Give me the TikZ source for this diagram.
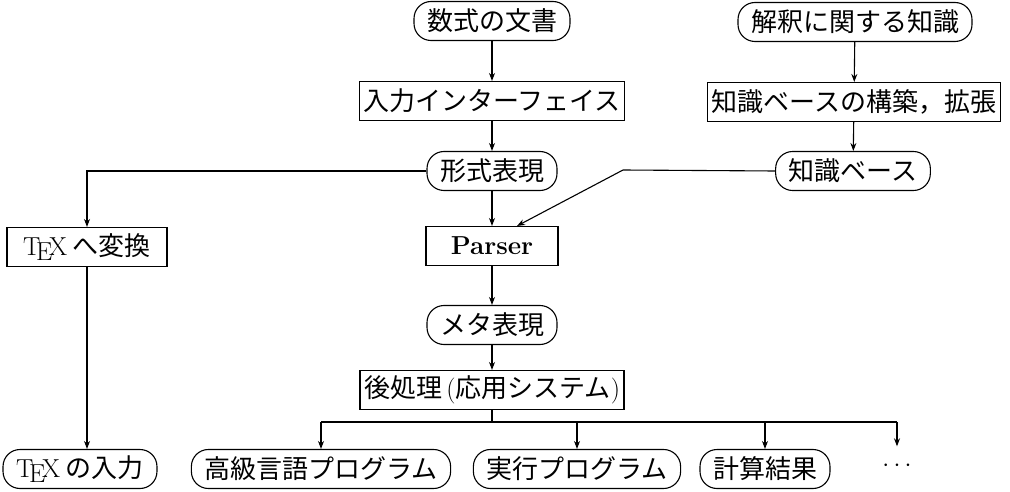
\documentclass[tikz,border=0pt]{standalone}
\usepackage{fontspec}
\newfontfamily\jp{Noto Sans CJK JP}
\usetikzlibrary{arrows.meta,calc}
\tikzset{
  base/.style={draw, line width=1.1pt, minimum height=39pt, inner ysep=2pt, font=\fontsize{26}{30}\selectfont\jp},
  rbox/.style={base, rounded corners=17pt, inner xsep=13pt},
  sbox/.style={base, inner xsep=4pt},
  conn/.style={line width=1.1pt, -{Stealth[length=8pt,width=6pt]}},
  wire/.style={line width=1.1pt}
}
\begin{document}
\begin{tikzpicture}[x=1pt,y=-1pt]
\useasboundingbox (0,0) rectangle (1010,492);
% top row
\node[rbox] (a1) at (492,21) {数式の文書};
\node[rbox] (a2) at (855,22) {解釈に関する知識};
\node[sbox] (b1) at (492,101) {入力インターフェイス};
\node[sbox] (b2) at (854,102) {知識ベースの構築，拡張};
\node[rbox] (c1) at (492,171) {形式表現};
\node[rbox] (c2) at (853,171) {知識ベース};
\node[sbox, minimum width=160pt] (tex) at (87,247) {{\rmfamily\TeX} へ変換};
\node[sbox, minimum width=132pt, font=\fontsize{26}{30}\selectfont\rmfamily\bfseries] (d1) at (492,246) {Parser};
\node[rbox] (e1) at (492,325) {メタ表現};
\node[sbox] (f1) at (492,390) {後処理\,{\rmfamily(}応用システム{\rmfamily)}};
% bottom row
\node[rbox] (g0) at (80,469) {{\rmfamily\TeX} の入力};
\node[rbox] (g1) at (321,469) {高級言語プログラム};
\node[rbox] (g2) at (577,469) {実行プログラム};
\node[rbox] (g3) at (765,469) {計算結果};
\node[minimum height=39pt, font=\fontsize{26}{30}\selectfont\rmfamily] (g4) at (897,466) {$\cdots$};
\coordinate (bus) at (492,422);
\coordinate (bend) at (623,170);
% connectors
\draw[conn] (a1) -- (b1);
\draw[conn] (b1) -- (c1);
\draw[conn] (c1) -- (d1);
\draw[conn] (d1) -- (e1);
\draw[conn] (e1) -- (f1);
\draw[conn] (a2) -- (b2);
\draw[conn] (b2) -- (c2);
\draw[conn] (c1.west) -| (tex.north);
\draw[conn] (tex.south) -- (tex.south |- g0.north);
\draw[conn] (c2.west) -- (bend) -- ($(d1.north)+(25,0)$);
\draw[wire] (f1.south) -- (bus);
\draw[wire] (g1.north |- bus) -- (g4.north |- bus);
\draw[conn] (g1.north |- bus) -- (g1.north);
\draw[conn] (g2.north |- bus) -- (g2.north);
\draw[conn] (g3.north |- bus) -- (g3.north);
\draw[conn] (g4.north |- bus) -- (g4.north);
\end{tikzpicture}
\end{document}
